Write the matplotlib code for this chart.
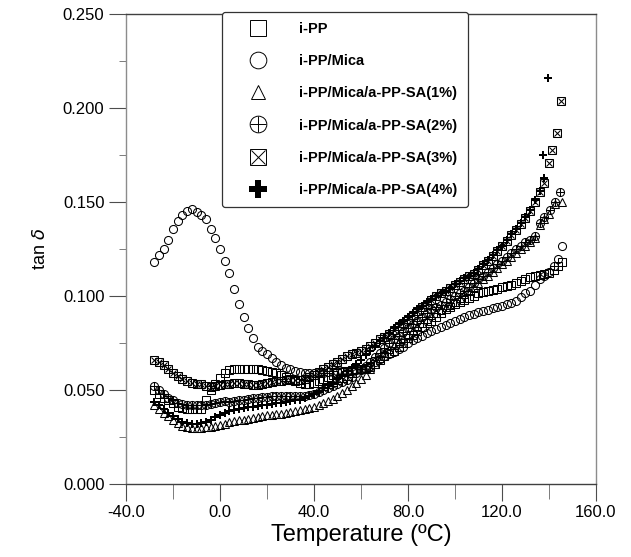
import matplotlib
matplotlib.use("Agg")
import matplotlib.pyplot as plt
from matplotlib.lines import Line2D
from matplotlib.ticker import MultipleLocator, FormatStrFormatter

plt.rcParams["font.family"] = ["Liberation Sans", "DejaVu Sans"]

# temperature grid shared by the six curves (deg C)
TEMP = list(range(-28, 140, 2))

TAN_IPP = [
    0.050, 0.048, 0.046, 0.0445, 0.043, 0.041, 0.0405, 0.040, 0.040, 0.0398,
    0.040, 0.045, 0.050, 0.0535, 0.0565, 0.059, 0.0605, 0.061, 0.061, 0.0612,
    0.0612, 0.061, 0.061, 0.0605, 0.060, 0.0595, 0.059, 0.058, 0.057, 0.056,
    0.055, 0.054, 0.0535, 0.0535, 0.054, 0.055, 0.056, 0.057, 0.058, 0.059,
    0.0595, 0.060, 0.0605, 0.061, 0.0615, 0.062, 0.0625, 0.064, 0.066, 0.068,
    0.0695, 0.071, 0.073, 0.075, 0.0775, 0.0795, 0.0815, 0.0835, 0.0855, 0.087,
    0.089, 0.091, 0.093, 0.0945, 0.096, 0.097, 0.098, 0.099, 0.100, 0.1015,
    0.102, 0.103, 0.1035, 0.104, 0.105, 0.1055, 0.106, 0.107, 0.108, 0.109,
    0.110, 0.111, 0.1115, 0.112,
]
TAIL_IPP_T = [140, 142, 144, 145.5]
TAIL_IPP = [0.1125, 0.114, 0.116, 0.118]

TAN_MICA = [
    0.118, 0.122, 0.125, 0.130, 0.136, 0.140, 0.143, 0.1455, 0.1463, 0.1448,
    0.143, 0.141, 0.136, 0.131, 0.125, 0.119, 0.1125, 0.104, 0.096, 0.089,
    0.083, 0.0775, 0.073, 0.071, 0.069, 0.067, 0.065, 0.0635, 0.062, 0.061,
    0.060, 0.0595, 0.0592, 0.059, 0.059, 0.059, 0.0592, 0.0595, 0.0598, 0.060,
    0.0602, 0.0603, 0.0604, 0.0605, 0.0607, 0.0615, 0.063, 0.065, 0.0665, 0.068,
    0.069, 0.0705, 0.072, 0.0731, 0.075, 0.0765, 0.0776, 0.079, 0.0805, 0.0813,
    0.0825, 0.0835, 0.0847, 0.086, 0.087, 0.088, 0.089, 0.090, 0.0907, 0.0914,
    0.092, 0.0928, 0.0936, 0.0944, 0.095, 0.0956, 0.0962, 0.0975, 0.0995, 0.1015,
    0.103, 0.106, 0.109, 0.111,
]
TAIL_MICA_T = [140, 142, 144, 145.5]
TAIL_MICA = [0.113, 0.116, 0.120, 0.1265]

TAN_SA1 = [
    0.042, 0.040, 0.038, 0.036, 0.034, 0.0325, 0.031, 0.0305, 0.030, 0.030,
    0.030, 0.0302, 0.0305, 0.031, 0.0315, 0.032, 0.033, 0.0335, 0.034, 0.034,
    0.0345, 0.035, 0.0355, 0.036, 0.0365, 0.037, 0.0372, 0.0375, 0.038, 0.0385,
    0.039, 0.0395, 0.040, 0.0405, 0.041, 0.042, 0.043, 0.044, 0.0455, 0.047,
    0.0485, 0.050, 0.052, 0.054, 0.056, 0.058, 0.061, 0.064, 0.067, 0.070,
    0.072, 0.074, 0.076, 0.078, 0.080, 0.082, 0.084, 0.086, 0.088, 0.090,
    0.091, 0.0925, 0.094, 0.0955, 0.097, 0.099, 0.101, 0.103, 0.105, 0.107,
    0.109, 0.111, 0.113, 0.115, 0.117, 0.119, 0.121, 0.123, 0.125, 0.127,
    0.129, 0.131, 0.138, 0.141,
]
TAIL_SA1_T = [140, 142.6, 145.4]
TAIL_SA1 = [0.144, 0.149, 0.150]

TAN_SA2 = [
    0.052, 0.050, 0.048, 0.046, 0.0445, 0.043, 0.0425, 0.042, 0.042, 0.042,
    0.042, 0.042, 0.0425, 0.043, 0.0435, 0.044, 0.0438, 0.044, 0.0445, 0.045,
    0.0455, 0.046, 0.046, 0.0465, 0.0465, 0.047, 0.047, 0.0468, 0.0468, 0.047,
    0.047, 0.0468, 0.047, 0.0475, 0.048, 0.049, 0.050, 0.051, 0.052, 0.053,
    0.0545, 0.0555, 0.057, 0.059, 0.061, 0.063, 0.065, 0.0675, 0.070, 0.0725,
    0.075, 0.077, 0.079, 0.081, 0.083, 0.085, 0.087, 0.089, 0.091, 0.093,
    0.094, 0.0955, 0.097, 0.0985, 0.100, 0.1015, 0.103, 0.105, 0.107, 0.109,
    0.111, 0.113, 0.115, 0.117, 0.119, 0.121, 0.123, 0.125, 0.127, 0.129,
    0.130, 0.132, 0.139, 0.142,
]
TAIL_SA2_T = [140.4, 142.5, 144.7]
TAIL_SA2 = [0.146, 0.150, 0.1556]

TAN_SA3 = [
    0.066, 0.065, 0.0635, 0.061, 0.059, 0.0575, 0.056, 0.055, 0.054, 0.0535,
    0.053, 0.052, 0.0518, 0.052, 0.0525, 0.053, 0.0535, 0.0536, 0.0536, 0.053,
    0.053, 0.0527, 0.0527, 0.053, 0.054, 0.0545, 0.055, 0.055, 0.0552, 0.0555,
    0.0555, 0.0555, 0.056, 0.057, 0.058, 0.0595, 0.061, 0.0625, 0.064, 0.065,
    0.0665, 0.068, 0.069, 0.070, 0.071, 0.072, 0.0735, 0.075, 0.077, 0.0785,
    0.080, 0.082, 0.084, 0.086, 0.088, 0.090, 0.092, 0.094, 0.096, 0.098,
    0.100, 0.1015, 0.103, 0.1045, 0.106, 0.1075, 0.109, 0.1105, 0.112, 0.114,
    0.1165, 0.119, 0.1215, 0.124, 0.1265, 0.1295, 0.1325, 0.1355, 0.1385, 0.1415,
    0.1455, 0.150, 0.1555, 0.1605,
]
TAIL_SA3_T = [139.9, 141.1, 143.3, 145.1]
TAIL_SA3 = [0.1707, 0.1778, 0.1867, 0.2038]

TAN_SA4 = [
    0.0438, 0.042, 0.040, 0.038, 0.036, 0.0345, 0.033, 0.0323, 0.032, 0.032,
    0.0323, 0.033, 0.034, 0.0355, 0.037, 0.038, 0.039, 0.0395, 0.040, 0.0405,
    0.041, 0.0412, 0.0415, 0.042, 0.042, 0.0425, 0.043, 0.043, 0.0435, 0.044,
    0.0445, 0.045, 0.046, 0.047, 0.048, 0.0495, 0.051, 0.0525, 0.054, 0.056,
    0.058, 0.060, 0.062, 0.064, 0.066, 0.0685, 0.071, 0.0735, 0.076, 0.078,
    0.0805, 0.083, 0.085, 0.087, 0.089, 0.091, 0.093, 0.095, 0.097, 0.0985,
    0.100, 0.1015, 0.103, 0.1045, 0.1065, 0.108, 0.1095, 0.111, 0.1125, 0.1145,
    0.117, 0.1195, 0.122, 0.1245, 0.127, 0.130, 0.133, 0.136, 0.139, 0.142,
    0.146, 0.151, 0.156, 0.163,
]
TAIL_SA4_T = [137.3, 139.4]
TAIL_SA4 = [0.175, 0.216]

LABELS = [
    "i-PP",
    "i-PP/Mica",
    "i-PP/Mica/a-PP-SA(1%)",
    "i-PP/Mica/a-PP-SA(2%)",
    "i-PP/Mica/a-PP-SA(3%)",
    "i-PP/Mica/a-PP-SA(4%)",
]


def hollow(ax, x, y, marker, ms=5.5):
    ax.plot(x, y, ls="none", marker=marker, ms=ms, mfc="none", mec="k", mew=0.75)


def main():
    fig = plt.figure(figsize=(6.31, 5.57), dpi=100)
    ax = fig.add_axes([0.1997, 0.131, 0.7448, 0.843])

    hollow(ax, TEMP + TAIL_IPP_T, TAN_IPP + TAIL_IPP, "s", 5.3)
    hollow(ax, TEMP + TAIL_MICA_T, TAN_MICA + TAIL_MICA, "o", 5.8)
    hollow(ax, TEMP + TAIL_SA1_T, TAN_SA1 + TAIL_SA1, "^", 5.8)
    x2 = TEMP + TAIL_SA2_T
    y2 = TAN_SA2 + TAIL_SA2
    hollow(ax, x2, y2, "o", 5.8)
    hollow(ax, x2, y2, "+", 5.8)
    x3 = TEMP + TAIL_SA3_T
    y3 = TAN_SA3 + TAIL_SA3
    hollow(ax, x3, y3, "s", 5.3)
    hollow(ax, x3, y3, "x", 4.8)
    ax.plot(TEMP + TAIL_SA4_T, TAN_SA4 + TAIL_SA4, ls="none", marker="P",
            ms=6, color="k", mew=0)

    ax.set_xlim(-40, 160)
    ax.set_ylim(0, 0.25)
    ax.xaxis.set_major_locator(MultipleLocator(40))
    ax.xaxis.set_minor_locator(MultipleLocator(20))
    ax.yaxis.set_major_locator(MultipleLocator(0.05))
    ax.yaxis.set_minor_locator(MultipleLocator(0.025))
    ax.xaxis.set_major_formatter(FormatStrFormatter("%.1f"))
    ax.yaxis.set_major_formatter(FormatStrFormatter("%.3f"))
    ax.tick_params(axis="both", which="major", direction="out", length=12,
                   width=0.8, labelsize=12, color="0.3")
    ax.tick_params(axis="x", which="minor", direction="out", length=11,
                   width=0.6, color="0.4")
    ax.tick_params(axis="y", which="minor", direction="out", length=5,
                   width=0.6, color="0.4")
    ax.tick_params(axis="x", pad=3)
    for side in ["left", "right"]:
        ax.spines[side].set_color("0.55")
        ax.spines[side].set_linewidth(1.0)
    for side in ["top", "bottom"]:
        ax.spines[side].set_color("0.25")
        ax.spines[side].set_linewidth(1.0)

    ax.set_xlabel("Temperature (ºC)", fontsize=17, labelpad=3)
    ax.set_ylabel(r"tan $\delta$", fontsize=13, labelpad=10)

    kw = dict(ls="none", mfc="none", mec="k", mew=0.7)
    handles = [
        Line2D([], [], marker="s", ms=12, **kw),
        Line2D([], [], marker="o", ms=12, **kw),
        Line2D([], [], marker="^", ms=10, **kw),
        (Line2D([], [], marker="o", ms=12, **kw), Line2D([], [], marker="+", ms=12, **kw)),
        (Line2D([], [], marker="s", ms=12, **kw), Line2D([], [], marker="x", ms=9.5, **kw)),
        Line2D([], [], marker="P", ms=13, ls="none", color="k", mew=0),
    ]
    leg = ax.legend(handles, LABELS, loc="upper left", bbox_to_anchor=(0.204, 1.006),
                    borderaxespad=0, frameon=True, fancybox=True, edgecolor="0.2",
                    framealpha=1, prop={"weight": "bold", "size": 10.5},
                    labelspacing=1.25, handlelength=3.5, handletextpad=1.1,
                    borderpad=0.7)
    leg.get_frame().set_linewidth(0.9)

    fig.savefig("out.png", dpi=100)


if __name__ == "__main__":
    main()
